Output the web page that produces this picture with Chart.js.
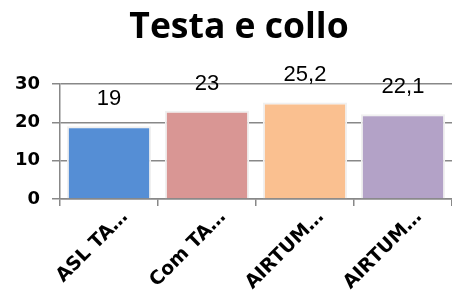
<!DOCTYPE html>
<html><head><meta charset="utf-8">
<script src="https://cdn.jsdelivr.net/npm/chart.js@4/dist/chart.umd.min.js"></script>
<style>html,body{margin:0;padding:0;background:#fff;}#wrap{width:452px;height:291px;}</style>
</head><body><div id="wrap"><canvas id="c" width="452" height="291"></canvas></div>
<script>
const chartTitle = "Testa e collo";
const categories = ["ASL TA…", "Com TA…", "AIRTUM…", "AIRTUM…"];
const values = [19, 23, 25.2, 22.1];
const barColors = ["#558ed5", "#d99694", "#fac090", "#b3a2c7"];
const yTicks = [0, 10, 20, 30];

const titleAndLabels = {
  id: 'titleAndLabels',
  afterDatasetsDraw(chart) {
    const ctx = chart.ctx;
    const meta = chart.getDatasetMeta(0);
    ctx.save();
    ctx.font = '22px "Liberation Sans", Arial, sans-serif';
    ctx.fillStyle = '#000';
    ctx.textAlign = 'center';
    ctx.textBaseline = 'middle';
    meta.data.forEach((bar, i) => {
      const txt = String(values[i]).replace('.', ',');
      ctx.fillText(txt, bar.x, bar.y - 27);
    });
    ctx.restore();
  },
  afterDraw(chart) {
    const ctx = chart.ctx;
    ctx.save();
    ctx.font = 'bold 35.5px "Open Sans", sans-serif';
    ctx.fillStyle = '#000';
    ctx.textAlign = 'center';
    ctx.textBaseline = 'alphabetic';
    ctx.fillText(chartTitle, 239, 38);
    ctx.restore();
  }
};

new Chart(document.getElementById('c'), {
  type: 'bar',
  data: {
    labels: categories,
    datasets: [{
      data: values,
      backgroundColor: barColors,
      borderColor: '#f0f0f0',
      borderWidth: 2,
      barPercentage: 0.86,
      categoryPercentage: 1.0
    }]
  },
  options: {
    responsive: false,
    animation: false,
    devicePixelRatio: 1,
    layout: { padding: { left: 0, right: 0, top: 84, bottom: 0 } },
    plugins: {
      legend: { display: false },
      tooltip: { enabled: false },
      title: { display: false }
    },
    scales: {
      y: {
        min: 0, max: 30,
        afterFit(s) { s.width = 60; },
        afterBuildTicks(s) { s.ticks = yTicks.map(v => ({ value: v })); },
        grid: { color: '#888888', lineWidth: 1.5, tickLength: 8, drawTicks: true },
        border: { display: true, color: '#888888', width: 1.5 },
        ticks: {
          color: '#000',
          padding: 12,
          font: { family: '"DejaVu Sans", sans-serif', size: 18, weight: 'bold' }
        }
      },
      x: {
        afterFit(s) { s.height = 92; },
        grid: { display: true, drawOnChartArea: false, drawTicks: true, tickLength: 7, color: '#888888', lineWidth: 1.5 },
        border: { display: true, color: '#888888', width: 1.5 },
        ticks: {
          color: '#000',
          minRotation: 45, maxRotation: 45,
          autoSkip: false,
          padding: 0,
          labelOffset: 16,
          font: { family: '"DejaVu Sans", sans-serif', size: 19, weight: 'bold' }
        }
      }
    }
  },
  plugins: [titleAndLabels]
});
</script>
</body></html>
